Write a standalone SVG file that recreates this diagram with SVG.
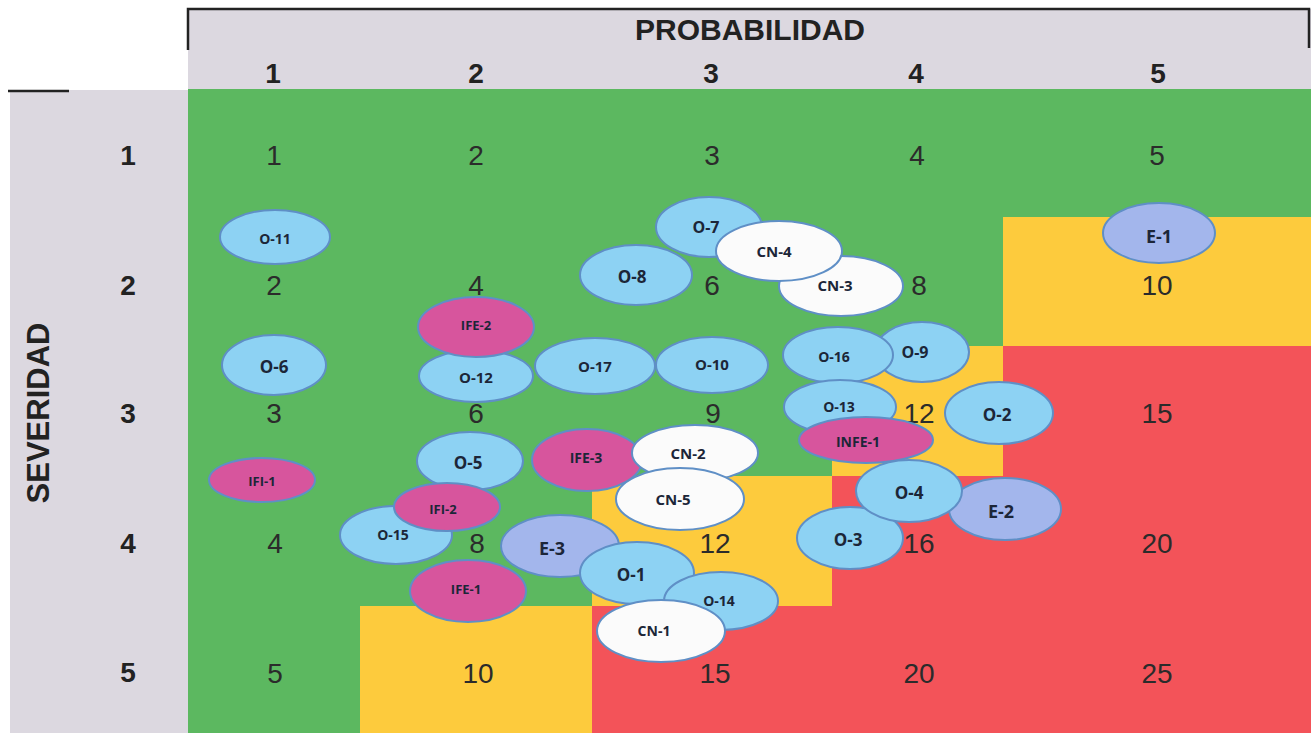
<svg xmlns="http://www.w3.org/2000/svg" width="1311" height="733" viewBox="0 0 1311 733">
<style>
.hdr{font-family:"Liberation Sans",Arial,sans-serif;font-weight:bold;fill:#222;}
.num{font-family:"Liberation Sans",Arial,sans-serif;font-size:28px;fill:#2b2b2b;text-anchor:middle;}
.g{fill:#5cb860;}
.y{fill:#fdcb3d;}
.r{fill:#f35359;}
.n ellipse{stroke:#5f8fc6;stroke-width:2;}
.n text{font-family:"Open Sans","Liberation Sans",sans-serif;font-weight:bold;fill:#1c2638;text-anchor:middle;dominant-baseline:central;}
.b{fill:#8dd2f3;}
.p{fill:#d7559d;}
.w{fill:#fbfbfb;}
.e{fill:#a3b6ec;}
</style>
<rect width="1311" height="733" fill="#ffffff"/>
<g id="frame">
<rect x="188" y="9" width="1123" height="81" fill="#dcd8e0"/>
<rect x="10" y="90" width="178" height="643" fill="#dcd8e0"/>
<path d="M188 50 V9 H1309 V48" fill="none" stroke="#222" stroke-width="2.5"/>
<line x1="8" y1="91" x2="69" y2="91" stroke="#222" stroke-width="2.5"/>
</g>
<g id="cells">
<rect class="g" x="188" y="89" width="1123" height="644"/>
<rect class="y" x="1003" y="217" width="308" height="129"/>
<rect class="y" x="832" y="346" width="171" height="130"/>
<rect class="r" x="1003" y="346" width="308" height="130"/>
<rect class="y" x="592" y="476" width="240" height="130"/>
<rect class="r" x="832" y="476" width="479" height="130"/>
<rect class="y" x="360" y="606" width="232" height="127"/>
<rect class="r" x="592" y="606" width="719" height="127"/>
</g>
<g id="labels">
<text class="hdr" x="750" y="40" font-size="30" text-anchor="middle">PROBABILIDAD</text>
<text class="hdr" x="273" y="83" font-size="28" text-anchor="middle">1</text>
<text class="hdr" x="476" y="83" font-size="28" text-anchor="middle">2</text>
<text class="hdr" x="711" y="83" font-size="28" text-anchor="middle">3</text>
<text class="hdr" x="916" y="83" font-size="28" text-anchor="middle">4</text>
<text class="hdr" x="1158" y="83" font-size="28" text-anchor="middle">5</text>
<text class="hdr" x="128" y="165" font-size="28" text-anchor="middle">1</text>
<text class="hdr" x="128" y="295" font-size="28" text-anchor="middle">2</text>
<text class="hdr" x="128" y="423" font-size="28" text-anchor="middle">3</text>
<text class="hdr" x="128" y="553" font-size="28" text-anchor="middle">4</text>
<text class="hdr" x="128" y="682" font-size="28" text-anchor="middle">5</text>
<text class="hdr" x="0" y="0" font-size="31" text-anchor="middle" transform="translate(49 413) rotate(-90)">SEVERIDAD</text>
</g>
<g id="values">
<text class="num" x="274" y="165">1</text>
<text class="num" x="476" y="165">2</text>
<text class="num" x="712" y="165">3</text>
<text class="num" x="917" y="165">4</text>
<text class="num" x="1157" y="165">5</text>
<text class="num" x="274" y="295">2</text>
<text class="num" x="476" y="295">4</text>
<text class="num" x="712" y="295">6</text>
<text class="num" x="919" y="295">8</text>
<text class="num" x="1157" y="295">10</text>
<text class="num" x="274" y="423">3</text>
<text class="num" x="476" y="423">6</text>
<text class="num" x="713" y="423">9</text>
<text class="num" x="919" y="423">12</text>
<text class="num" x="1157" y="423">15</text>
<text class="num" x="275" y="553">4</text>
<text class="num" x="477" y="553">8</text>
<text class="num" x="715" y="553">12</text>
<text class="num" x="919" y="553">16</text>
<text class="num" x="1157" y="553">20</text>
<text class="num" x="275" y="683">5</text>
<text class="num" x="478" y="683">10</text>
<text class="num" x="715" y="683">15</text>
<text class="num" x="919" y="683">20</text>
<text class="num" x="1157" y="683">25</text>
</g>
<g id="connectors"></g>
<g id="O-11" class="n"><ellipse class="b" cx="275" cy="237" rx="55" ry="27"/><text x="275" y="238" font-size="14">O-11</text></g>
<g id="O-6" class="n"><ellipse class="b" cx="274" cy="365" rx="52" ry="30"/><text x="274" y="366" font-size="17">O-6</text></g>
<g id="IFI-1" class="n"><ellipse class="p" cx="262" cy="480" rx="53" ry="22"/><text x="262" y="481" font-size="13">IFI-1</text></g>
<g id="O-12" class="n"><ellipse class="b" cx="476" cy="376" rx="57" ry="26"/><text x="476" y="377" font-size="15">O-12</text></g>
<g id="IFE-2" class="n"><ellipse class="p" cx="476" cy="327" rx="58" ry="30"/><text x="476" y="325" font-size="13">IFE-2</text></g>
<g id="O-17" class="n"><ellipse class="b" cx="595" cy="366" rx="60" ry="28"/><text x="595" y="366" font-size="15">O-17</text></g>
<g id="O-10" class="n"><ellipse class="b" cx="712" cy="365" rx="56" ry="28"/><text x="712" y="364" font-size="15">O-10</text></g>
<g id="O-7" class="n"><ellipse class="b" cx="709" cy="227" rx="53" ry="30"/><text x="706" y="227" font-size="16">O-7</text></g>
<g id="O-8" class="n"><ellipse class="b" cx="636" cy="275" rx="56" ry="30"/><text x="632" y="276" font-size="17">O-8</text></g>
<g id="CN-3" class="n"><ellipse class="w" cx="841" cy="286" rx="62" ry="30"/><text x="835" y="285" font-size="15">CN-3</text></g>
<g id="CN-4" class="n"><ellipse class="w" cx="779" cy="251" rx="63" ry="30"/><text x="774" y="251" font-size="15">CN-4</text></g>
<g id="E-1" class="n"><ellipse class="e" cx="1159" cy="233" rx="56" ry="30"/><text x="1159" y="236" font-size="18">E-1</text></g>
<g id="O-9" class="n"><ellipse class="b" cx="922" cy="352" rx="47" ry="30"/><text x="915" y="352" font-size="16">O-9</text></g>
<g id="O-16" class="n"><ellipse class="b" cx="838" cy="355" rx="55" ry="28"/><text x="834" y="356" font-size="14">O-16</text></g>
<g id="O-13" class="n"><ellipse class="b" cx="840" cy="407" rx="56" ry="27"/><text x="839" y="406" font-size="14">O-13</text></g>
<g id="INFE-1" class="n"><ellipse class="p" cx="866" cy="440" rx="67" ry="23"/><text x="858" y="441" font-size="14">INFE-1</text></g>
<g id="O-2" class="n"><ellipse class="b" cx="999" cy="413" rx="54" ry="31"/><text x="997" y="414" font-size="17">O-2</text></g>
<g id="E-2" class="n"><ellipse class="e" cx="1005" cy="509" rx="56" ry="31"/><text x="1001" y="511" font-size="18">E-2</text></g>
<g id="O-3" class="n"><ellipse class="b" cx="850" cy="538" rx="53" ry="31"/><text x="848" y="539" font-size="17">O-3</text></g>
<g id="O-4" class="n"><ellipse class="b" cx="909" cy="491" rx="53" ry="31"/><text x="909" y="492" font-size="17">O-4</text></g>
<g id="O-5" class="n"><ellipse class="b" cx="470" cy="461" rx="53" ry="29"/><text x="468" y="462" font-size="17">O-5</text></g>
<g id="O-15" class="n"><ellipse class="b" cx="396" cy="535" rx="56" ry="29"/><text x="393" y="534" font-size="14">O-15</text></g>
<g id="IFI-2" class="n"><ellipse class="p" cx="447" cy="507" rx="53" ry="24"/><text x="443" y="509" font-size="13">IFI-2</text></g>
<g id="IFE-3" class="n"><ellipse class="p" cx="587" cy="460" rx="55" ry="31"/><text x="586" y="457" font-size="14">IFE-3</text></g>
<g id="CN-2" class="n"><ellipse class="w" cx="695" cy="453" rx="63" ry="28"/><text x="688" y="453" font-size="15">CN-2</text></g>
<g id="CN-5" class="n"><ellipse class="w" cx="680" cy="499" rx="64" ry="31"/><text x="673" y="499" font-size="15">CN-5</text></g>
<g id="E-3" class="n"><ellipse class="e" cx="560" cy="546" rx="59" ry="31"/><text x="552" y="548" font-size="18">E-3</text></g>
<g id="O-1" class="n"><ellipse class="b" cx="637" cy="573" rx="57" ry="31"/><text x="631" y="574" font-size="17">O-1</text></g>
<g id="O-14" class="n"><ellipse class="b" cx="721" cy="601" rx="57" ry="29"/><text x="719" y="600" font-size="14">O-14</text></g>
<g id="CN-1" class="n"><ellipse class="w" cx="661" cy="631" rx="64" ry="31"/><text x="654" y="630" font-size="14">CN-1</text></g>
<g id="IFE-1" class="n"><ellipse class="p" cx="468" cy="591" rx="58" ry="31"/><text x="466" y="589" font-size="13">IFE-1</text></g>
</svg>
